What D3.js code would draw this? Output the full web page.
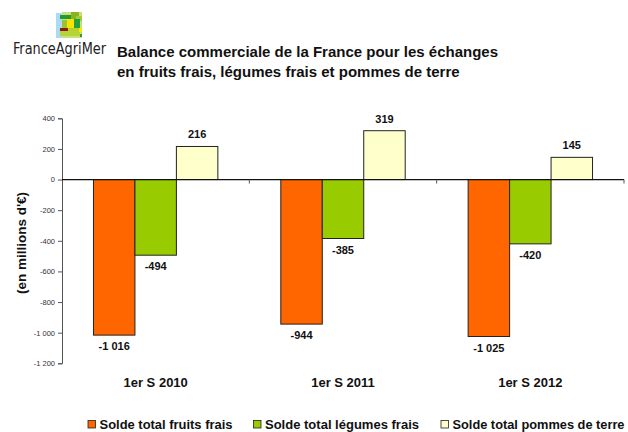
<!DOCTYPE html>
<html><head><meta charset="utf-8">
<script src="https://cdn.jsdelivr.net/npm/d3@7"></script>
<style>
html,body{margin:0;padding:0;background:#fff;}
svg{display:block;font-family:"Liberation Sans",Arial,sans-serif;}
</style></head>
<body><svg id="c" width="628" height="432"></svg>
<script>
const categories = ["1er S 2010", "1er S 2011", "1er S 2012"];
const seriesNames = ["Solde total fruits frais", "Solde total légumes frais", "Solde total pommes de terre"];
const fruits = [-1016, -944, -1025];
const legumes = [-494, -385, -420];
const pommes = [216, 319, 145];
const yTicks = [400, 200, 0, -200, -400, -600, -800, -1000, -1200];
const colors = ["#FF6600", "#99CC00", "#FFFFCC"];
const titleLines = ["Balance commerciale de la France pour les échanges", "en fruits frais, légumes frais et pommes de terre"];
const yTitle = "(en millions d'€)";

const series = [fruits, legumes, pommes];
const svg = d3.select("#c");
const loc = d3.formatLocale({decimal: ",", thousands: " ", grouping: [3], currency: ["", ""], minus: "-"});
const fmt = loc.format(",d");

const plotLeft = 62, plotRight = 624, plotTop = 118.3, plotBottom = 363.3;
const y = d3.scaleLinear().domain([-1200, 400]).range([plotBottom, plotTop]);
const x0 = d3.scaleBand().domain(categories).range([plotLeft, plotRight]).padding(0);
const bw = x0.bandwidth();
const x1 = d3.scaleBand().domain(d3.range(3)).range([bw * 0.168, bw * 0.832]).padding(0);

// Logo
const logo = svg.append("g");
const blocks = [
  [56, 13, 6, 25, "#a9dbf2"],
  [62, 12, 20, 26, "#c6e07a"],
  [60, 15, 12, 4, "#1e9a3a"],
  [71, 12, 8, 7, "#8ab31e"],
  [76, 16, 6, 5, "#a8c93a"],
  [66, 19, 8, 9, "#f5e400"],
  [74, 19, 6, 9, "#22a03c"],
  [62, 20, 5, 8, "#9cc431"],
  [60, 28, 8, 3, "#8b1a1a"],
  [68, 28, 12, 3, "#b9cf2a"],
  [60, 31, 20, 5, "#b5d43a"],
  [79, 28, 3, 4, "#ffe800"],
  [80, 34, 2, 3, "#2e9a46"]
];
logo.selectAll("rect").data(blocks).join("rect")
  .attr("x", d => d[0]).attr("y", d => d[1]).attr("width", d => d[2]).attr("height", d => d[3]).attr("fill", d => d[4]);
svg.append("text").attr("x", 13).attr("y", 54).attr("font-size", 15.5)
  .attr("font-family", "'DejaVu Sans Condensed','Liberation Sans Narrow','DejaVu Sans',sans-serif")
  .attr("fill", "#222").attr("textLength", 93).attr("lengthAdjust", "spacingAndGlyphs")
  .text("FranceAgriMer");

// Title
svg.append("g").selectAll("text").data(titleLines).join("text")
  .attr("x", 117).attr("y", (d, i) => 57 + i * 20)
  .attr("font-size", 15).attr("font-weight", "bold").attr("fill", "#111")
  .text(d => d);

// Y axis
const yAxis = svg.append("g").attr("transform", `translate(${plotLeft},0)`)
  .call(d3.axisLeft(y).tickValues(yTicks).tickSize(4).tickPadding(3).tickFormat(fmt));
yAxis.selectAll("path,line").attr("stroke", "#555");
yAxis.selectAll("text").attr("font-size", 7.5).attr("fill", "#333").attr("font-family", "'Liberation Sans',Arial,sans-serif");

// Y title
svg.append("text").attr("transform", "translate(26,243) rotate(-90)")
  .attr("text-anchor", "middle").attr("font-size", 13.5).attr("font-weight", "bold").attr("fill", "#111")
  .text(yTitle);

// Bars
const groups = svg.append("g").selectAll("g").data(categories).join("g")
  .attr("transform", d => `translate(${x0(d)},0)`);
groups.each(function(cat, ci) {
  const g = d3.select(this);
  const vals = series.map(s => s[ci]);
  g.selectAll("rect").data(vals).join("rect")
    .attr("x", (d, i) => x1(i)).attr("width", x1.bandwidth())
    .attr("y", d => y(Math.max(0, d))).attr("height", d => Math.abs(y(d) - y(0)))
    .attr("fill", (d, i) => colors[i]).attr("stroke", "#222").attr("stroke-width", 1);
  g.selectAll("text").data(vals).join("text")
    .attr("x", (d, i) => x1(i) + x1.bandwidth() / 2)
    .attr("y", d => d >= 0 ? y(d) - 8 : y(d) + 15)
    .attr("text-anchor", "middle").attr("font-size", 11).attr("font-weight", "bold").attr("fill", "#111")
    .text(d => fmt(d));
});

// X axis at zero
const xAxis = svg.append("g").attr("transform", `translate(0,${y(0)})`);
xAxis.append("line").attr("x1", plotLeft).attr("x2", plotRight).attr("stroke", "#111").attr("stroke-width", 1.2);
xAxis.selectAll("line.t").data(categories).join("line").attr("class", "t")
  .attr("x1", d => x0(d) + bw).attr("x2", d => x0(d) + bw).attr("y1", 0).attr("y2", 4).attr("stroke", "#555");

// Category labels
svg.append("g").selectAll("text").data(categories).join("text")
  .attr("x", d => x0(d) + bw / 2).attr("y", 387)
  .attr("text-anchor", "middle").attr("font-size", 13).attr("font-weight", "bold").attr("fill", "#111")
  .text(d => d);

// Legend
const legX = [88, 253.5, 441];
const legW = [133, 154, 172];
const leg = svg.append("g").selectAll("g").data(seriesNames).join("g")
  .attr("transform", (d, i) => `translate(${legX[i]},420.5)`);
leg.append("rect").attr("width", 7.5).attr("height", 7.5).attr("fill", (d, i) => colors[i]).attr("stroke", "#222").attr("stroke-width", 0.8);
leg.append("text").attr("x", 11.5).attr("y", 8).attr("font-size", 12.5).attr("font-weight", "bold").attr("fill", "#111")
  .attr("textLength", (d, i) => legW[i]).attr("lengthAdjust", "spacingAndGlyphs")
  .text(d => d);
</script></body></html>
